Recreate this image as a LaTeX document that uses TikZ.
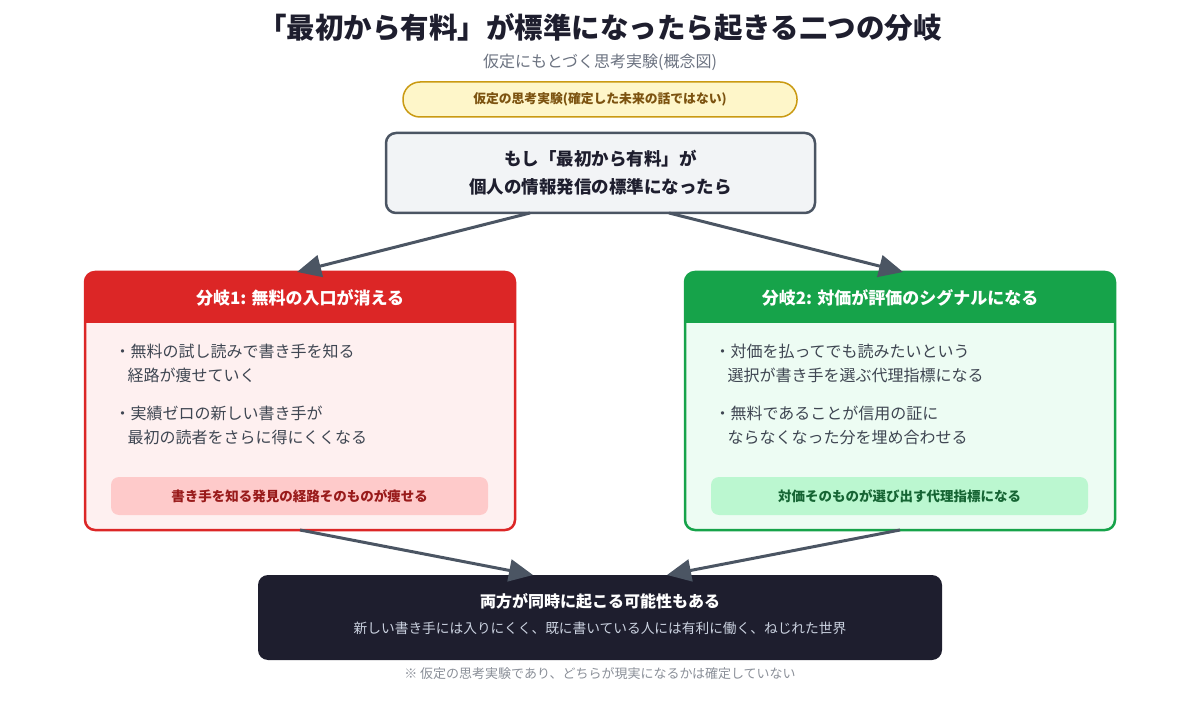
\documentclass[tikz,border=0pt]{standalone}
\usepackage{fontspec}
\setmainfont{Noto Sans CJK JP}
\usetikzlibrary{arrows.meta}
\definecolor{ink}{HTML}{1E1E2E}
\definecolor{subgray}{HTML}{6B7280}
\definecolor{pillfill}{HTML}{FEF6C9}
\definecolor{pilldraw}{HTML}{CA9A12}
\definecolor{pilltext}{HTML}{7C5310}
\definecolor{topfill}{HTML}{F2F4F6}
\definecolor{slate}{HTML}{4B5563}
\definecolor{bodytext}{HTML}{3F4652}
\definecolor{redc}{HTML}{DC2626}
\definecolor{redbody}{HTML}{FEF0F0}
\definecolor{redcall}{HTML}{FECACA}
\definecolor{redtext}{HTML}{991B1B}
\definecolor{greenc}{HTML}{16A34A}
\definecolor{greenbody}{HTML}{EDFCF3}
\definecolor{greencall}{HTML}{BBF7D0}
\definecolor{greentext}{HTML}{166534}
\definecolor{bottomsub}{HTML}{CBD2E0}
\definecolor{footgray}{HTML}{8A8F98}
\tikzset{
  flow/.style={draw=slate, line width=3pt, -{Triangle[length=24pt,width=22pt]}},
  branchbox/.style={rounded corners=10pt, line width=2.5pt, minimum width=430pt, minimum height=258pt},
  callout/.style={rounded corners=8pt, minimum width=377pt, minimum height=38pt, font=\fontsize{13.5}{16}\selectfont\bfseries},
  headtext/.style={text=white, font=\fontsize{17}{20}\selectfont\bfseries},
  bullet/.style={anchor=west, align=left, text=bodytext, font=\fontsize{16}{24}\selectfont},
}
\begin{document}
\begin{tikzpicture}[x=1pt, y=-1pt]
\useasboundingbox (0,0) rectangle (1200,703);
% title
\node[text=ink, font=\fontsize{28.5}{32}\selectfont\bfseries] (title) at (600,28) {「最初から有料」が標準になったら起きる二つの分岐};
\node[text=subgray, font=\fontsize{16}{18}\selectfont] (subtitle) at (600,62) {仮定にもとづく思考実験(概念図)};
\node[draw=pilldraw, fill=pillfill, line width=1.5pt, rounded corners=17pt, minimum width=394pt, minimum height=35pt, text=pilltext, font=\fontsize{12.8}{15}\selectfont\bfseries] (pill) at (600,99.5) {仮定の思考実験(確定した未来の話ではない)};
% top box
\node[draw=slate, fill=topfill, line width=2.5pt, rounded corners=10pt, minimum width=429pt, minimum height=80pt, align=center, text=ink, font=\fontsize{17.5}{28}\selectfont\bfseries] (top) at (600.5,173) {もし「最初から有料」が\\個人の情報発信の標準になったら};
% left branch
\node[branchbox, fill=redbody] (left) at (300,401) {};
\fill[redc] (85,323) {[rounded corners=10pt] -- (85,272) -- (515,272)} -- (515,323) -- cycle;
\node[branchbox, draw=redc] (leftframe) at (300,401) {};
\node[headtext] (lefthead) at (300,298) {分岐1: 無料の入口が消える};
\node[bullet] (l1) at (111,363) {・無料の試し読みで書き手を知る\\\hspace{13pt}経路が痩せていく};
\node[bullet] (l2) at (111,425) {・実績ゼロの新しい書き手が\\\hspace{13pt}最初の読者をさらに得にくくなる};
\node[callout, fill=redcall, text=redtext] (lcall) at (299.5,496) {書き手を知る発見の経路そのものが痩せる};
% right branch
\node[branchbox, fill=greenbody] (right) at (900,401) {};
\fill[greenc] (685,323) {[rounded corners=10pt] -- (685,272) -- (1115,272)} -- (1115,323) -- cycle;
\node[branchbox, draw=greenc] (rightframe) at (900,401) {};
\node[headtext] (righthead) at (900,298) {分岐2: 対価が評価のシグナルになる};
\node[bullet] (r1) at (711,363) {・対価を払ってでも読みたいという\\\hspace{13pt}選択が書き手を選ぶ代理指標になる};
\node[bullet] (r2) at (711,425) {・無料であることが信用の証に\\\hspace{13pt}ならなくなった分を埋め合わせる};
\node[callout, fill=greencall, text=greentext] (rcall) at (899.5,496) {対価そのものが選び出す代理指標になる};
% bottom box
\node[fill=ink, rounded corners=10pt, minimum width=684pt, minimum height=85pt] (bottom) at (600,617.5) {};
\node[text=white, font=\fontsize{16}{19}\selectfont\bfseries] (bottomtitle) at (600,601) {両方が同時に起こる可能性もある};
\node[text=bottomsub, font=\fontsize{13.7}{16}\selectfont] (bottomsubtext) at (600,628) {新しい書き手には入りにくく、既に書いている人には有利に働く、ねじれた世界};
\node[text=footgray, font=\fontsize{13}{15}\selectfont] (foot) at (600,674) {※ 仮定の思考実験であり、どちらが現実になるかは確定していない};
% connector endpoints
\coordinate (tl) at (530,213);
\coordinate (tr) at (669,213);
\coordinate (ltip) at (297,272);
\coordinate (rtip) at (903,272);
\coordinate (bl) at (300,530);
\coordinate (br) at (900,530);
\coordinate (bltip) at (533,575);
\coordinate (brtip) at (667,575);
\draw[flow] (tl) -- (ltip);
\draw[flow] (tr) -- (rtip);
\draw[flow] (bl) -- (bltip);
\draw[flow] (br) -- (brtip);
\end{tikzpicture}
\end{document}
